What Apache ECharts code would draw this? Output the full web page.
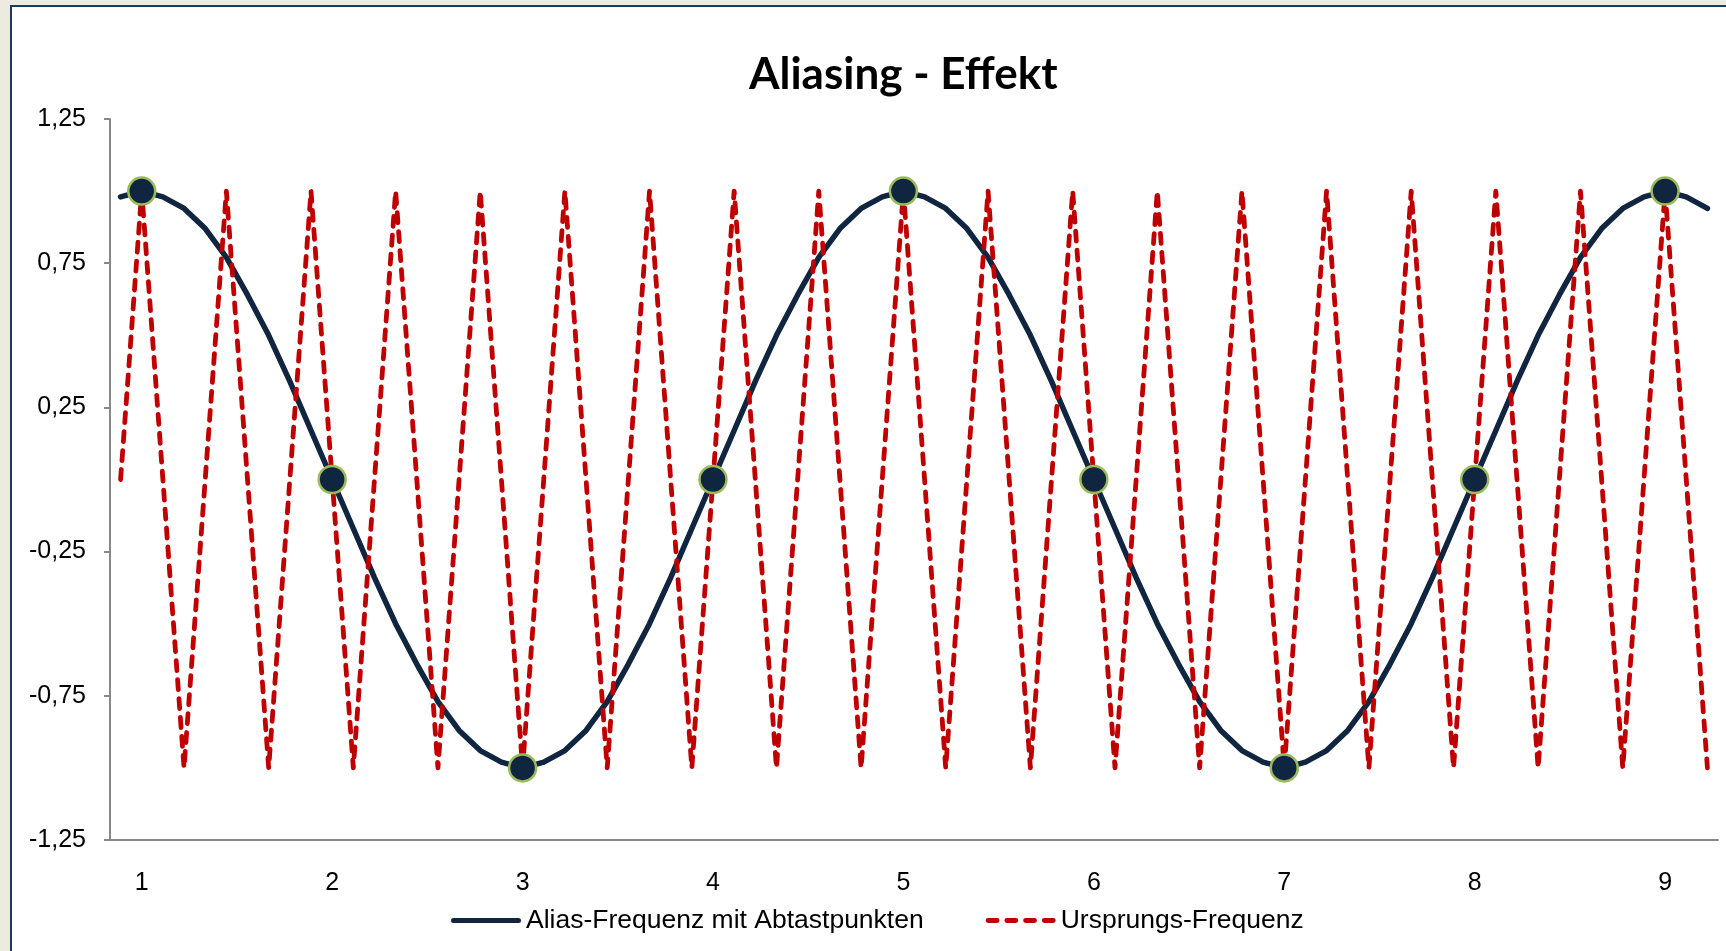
<!DOCTYPE html>
<html>
<head>
<meta charset="utf-8">
<title>Aliasing - Effekt</title>
<script src="https://cdn.jsdelivr.net/npm/echarts@6/dist/echarts.min.js"></script>
<style>
  html, body { margin: 0; padding: 0; background: #EDEADF; overflow: hidden; }
  #frame {
    position: absolute; left: 10px; top: 5px; width: 1716px; height: 946px;
    background: #ffffff; border-left: 2px solid #1F3A5C; border-top: 2px solid #1F3A5C;
    box-sizing: border-box;
  }
  #chart { position: absolute; left: 0; top: 0; width: 1726px; height: 951px; }
</style>
</head>
<body>
<div id="frame"></div>
<div id="chart"></div>
<script>
// Sample positions along the time axis (step 1/9)
const xValues = [
  0.89, 1, 1.11, 1.22, 1.33, 1.44, 1.56, 1.67, 1.78, 1.89,
  2, 2.11, 2.22, 2.33, 2.44, 2.56, 2.67, 2.78, 2.89,
  3, 3.11, 3.22, 3.33, 3.44, 3.56, 3.67, 3.78, 3.89,
  4, 4.11, 4.22, 4.33, 4.44, 4.56, 4.67, 4.78, 4.89,
  5, 5.11, 5.22, 5.33, 5.44, 5.56, 5.67, 5.78, 5.89,
  6, 6.11, 6.22, 6.33, 6.44, 6.56, 6.67, 6.78, 6.89,
  7, 7.11, 7.22, 7.33, 7.44, 7.56, 7.67, 7.78, 7.89,
  8, 8.11, 8.22, 8.33, 8.44, 8.56, 8.67, 8.78, 8.89,
  9, 9.11, 9.22
];

// Alias frequency (slow cosine)
const aliasValues = [
  0.98, 1, 0.98, 0.94, 0.87, 0.77, 0.64, 0.5, 0.34, 0.17,
  0, -0.17, -0.34, -0.5, -0.64, -0.77, -0.87, -0.94, -0.98,
  -1, -0.98, -0.94, -0.87, -0.77, -0.64, -0.5, -0.34, -0.17,
  0, 0.17, 0.34, 0.5, 0.64, 0.77, 0.87, 0.94, 0.98,
  1, 0.98, 0.94, 0.87, 0.77, 0.64, 0.5, 0.34, 0.17,
  0, -0.17, -0.34, -0.5, -0.64, -0.77, -0.87, -0.94, -0.98,
  -1, -0.98, -0.94, -0.87, -0.77, -0.64, -0.5, -0.34, -0.17,
  0, 0.17, 0.34, 0.5, 0.64, 0.77, 0.87, 0.94, 0.98,
  1, 0.98, 0.94
];

// Original frequency (fast cosine)
const originalValues = [
  0, 1, 0, -1, 0, 1, 0, -1, 0, 1,
  0, -1, 0, 1, 0, -1, 0, 1, 0,
  -1, 0, 1, 0, -1, 0, 1, 0, -1,
  0, 1, 0, -1, 0, 1, 0, -1, 0,
  1, 0, -1, 0, 1, 0, -1, 0, 1,
  0, -1, 0, 1, 0, -1, 0, 1, 0,
  -1, 0, 1, 0, -1, 0, 1, 0, -1,
  0, 1, 0, -1, 0, 1, 0, -1, 0,
  1, 0, -1
];

// Sampling instants (integer times) marked on the alias curve
const samplePoints = [1, 2, 3, 4, 5, 6, 7, 8, 9];

// Y tick labels, German decimal comma
const yTickLabels = ['-1,25', '-0,75', '-0,25', '0,25', '0,75', '1,25'];
const yTickValues = [-1.25, -0.75, -0.25, 0.25, 0.75, 1.25];

const NAVY = '#10253F';
const RED = '#C00000';
const AXIS = '#878787';
const ALIAS = 'Alias-Frequenz mit Abtastpunkten';
const ORIG = 'Ursprungs-Frequenz';

// Markers only at the sampling instants; other points stay without symbol
const sampleData = aliasValues.map((v, i) =>
  samplePoints.includes(xValues[i]) ? v : null
);

const chart = echarts.init(document.getElementById('chart'), null, { renderer: 'canvas' });

chart.setOption({
  backgroundColor: 'transparent',
  animation: false,
  title: {
    text: 'Aliasing - Effekt',
    left: 744,
    top: 48,
    textStyle: { fontFamily: 'Lato', fontWeight: 'bold', fontSize: 44, color: '#000000' }
  },
  legend: {
    left: 446,
    top: 902,
    itemWidth: 70,
    itemHeight: 5,
    itemGap: 62,
    textStyle: { fontFamily: 'Liberation Sans', fontSize: 26.5, color: '#000000' },
    data: [
      { name: ALIAS, icon: 'path://M2.5,0H67.5A2.5,2.5,0,0,1,67.5,5H2.5A2.5,2.5,0,0,1,2.5,0Z' },
      { name: ORIG, icon: 'path://M2,0H11A2.5,2.5,0,0,1,11,5H2A2.5,2.5,0,0,1,2,0Z M21,0H30A2.5,2.5,0,0,1,30,5H21A2.5,2.5,0,0,1,21,0Z M40,0H49A2.5,2.5,0,0,1,49,5H40A2.5,2.5,0,0,1,40,0Z M59,0H68A2.5,2.5,0,0,1,68,5H59A2.5,2.5,0,0,1,59,0Z' }
    ]
  },
  grid: { left: 110, top: 119, right: 8, bottom: 111, containLabel: false },
  xAxis: {
    type: 'category',
    boundaryGap: true,
    data: xValues.map(String),
    axisLine: { onZero: false, lineStyle: { color: AXIS, width: 2 } },
    axisTick: { show: false },
    splitLine: { show: false },
    axisLabel: {
      interval: (idx, val) => samplePoints.includes(Number(val)),
      margin: 31,
      fontFamily: 'Liberation Sans',
      fontSize: 25,
      color: '#000000'
    }
  },
  yAxis: {
    type: 'value',
    min: -1.25,
    max: 1.25,
    interval: 0.5,
    axisLine: { show: true, lineStyle: { color: AXIS, width: 2 } },
    axisTick: { show: true, length: 6, lineStyle: { color: AXIS, width: 2 } },
    splitLine: { show: false },
    axisLabel: {
      margin: 24,
      fontFamily: 'Liberation Sans',
      fontSize: 25,
      color: '#000000',
      formatter: (v) => {
        const i = yTickValues.findIndex(t => Math.abs(t - v) < 1e-9);
        return i >= 0 ? yTickLabels[i] : '';
      }
    }
  },
  series: [
    {
      name: ALIAS,
      type: 'line',
      data: aliasValues,
      symbol: 'none',
      z: 2,
      lineStyle: { color: NAVY, width: 5.5, cap: 'round', join: 'round' },
      itemStyle: { color: NAVY }
    },
    {
      name: ORIG,
      type: 'line',
      data: originalValues,
      symbol: 'none',
      z: 3,
      lineStyle: { color: RED, width: 4.8, type: [10, 9], cap: 'round', join: 'round' },
      itemStyle: { color: RED }
    },
    {
      // sampling points drawn above both curves
      name: ALIAS,
      type: 'line',
      data: sampleData,
      connectNulls: false,
      symbol: 'circle',
      symbolSize: 27,
      showSymbol: true,
      showAllSymbol: true,
      z: 4,
      lineStyle: { width: 0, opacity: 0 },
      itemStyle: { color: NAVY, borderColor: '#9BBB59', borderWidth: 2.5 }
    }
  ]
});
</script>
</body>
</html>
